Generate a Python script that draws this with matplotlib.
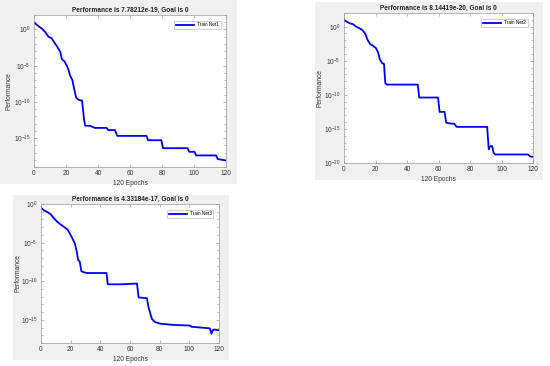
import numpy as np
import matplotlib
matplotlib.use("Agg")
import matplotlib.pyplot as plt
from matplotlib.patches import Rectangle

plt.rcParams["font.family"] = ["Liberation Sans", "DejaVu Sans"]
plt.rcParams["mathtext.fontset"] = "custom"
plt.rcParams["mathtext.rm"] = "Liberation Sans"
plt.rcParams["mathtext.it"] = "Liberation Sans"

# epochs / log10(performance)
epochs1 = [0, 2.9, 5, 7, 9, 11, 13, 15, 16.4, 17.4, 19, 20.5, 21.6, 22.6, 24, 25,
           26.3, 27.8, 28.8, 30, 31.3, 32, 35, 38, 45.4, 46.4, 50.6, 52, 70.3,
           71.3, 79.6, 80.6, 96, 97, 100.3, 101.3, 113.8, 114.8, 120]
log_perf1 = [0.97, 0.44, 0.1, -0.35, -1.0, -1.2, -1.9, -2.55, -3.1, -4.1, -4.4,
             -5.0, -5.6, -6.4, -7.0, -8.1, -9.4, -9.7, -9.8, -9.8, -12.5, -13.3,
             -13.3, -13.6, -13.6, -13.9, -13.9, -14.7, -14.7, -15.3, -15.3,
             -16.4, -16.4, -16.9, -16.9, -17.4, -17.4, -17.9, -18.1]

epochs2 = [0, 1.5, 3.5, 5.6, 7.7, 9.8, 11.9, 13.5, 15, 16.6, 18.1, 20.2, 21.6,
           22.7, 24.3, 25.4, 26.2, 27, 46.8, 47.8, 59.7, 60.7, 63.8, 64.9, 67.6,
           70, 71.5, 90.9, 91.9, 92.5, 94, 95, 96, 116.8, 118.3, 120]
log_perf2 = [0.98, 0.75, 0.5, 0.37, 0.0, -0.23, -0.56, -1.03, -1.96, -2.57,
             -2.76, -3.13, -3.74, -4.77, -5.37, -5.47, -8.27, -8.5, -8.5, -10.4,
             -10.4, -12.5, -12.5, -14.1, -14.2, -14.25, -14.7, -14.7, -18.0,
             -17.6, -17.5, -18.55, -18.75, -18.75, -19.05, -19.09]

epochs3 = [0, 2.2, 4.5, 6.7, 8.9, 11.2, 13.4, 15.6, 17.9, 19.4, 21.2, 22.8,
           24.1, 25, 26.1, 27.2, 29, 31.2, 44.2, 45, 53.6, 64.7, 65.8, 71.4,
           72.5, 74.8, 77, 80.4, 89.3, 100.4, 101.5, 113.8, 114.9, 116, 117.2,
           120]
log_perf3 = [-0.5, -0.85, -1.06, -1.36, -1.9, -2.34, -2.68, -2.98, -3.3, -3.83,
             -4.47, -5.1, -6.17, -7.23, -7.45, -8.7, -8.85, -8.94, -8.94, -10.4,
             -10.4, -10.3, -12.1, -12.2, -13.4, -14.9, -15.3, -15.5, -15.66,
             -15.74, -15.9, -16.1, -16.8, -16.3, -16.26, -16.36]

titles = ["Performance is 7.78212e-19, Goal is 0",
          "Performance is 8.14419e-20, Goal is 0",
          "Performance is 4.33184e-17, Goal is 0"]
labels = ["Train Net1", "Train Net2", "Train Net3"]

W, H = 550, 366
fig = plt.figure(figsize=(W / 100, H / 100), dpi=100)
fig.patch.set_facecolor("white")

# pixel boxes: (frame x0, y0, x1, y1), (axes left, top, right, bottom), ylim exps
panels = [
    ((0, 0, 237, 184), (34, 15, 226, 167), (-18.9, 1.2), [0, -5, -10, -15]),
    ((315, 2, 543, 180), (344, 13, 533, 163), (-20, 1.1), [0, -5, -10, -15, -20]),
    ((13, 195, 229, 360), (41, 204, 219, 343), (-17.9, 0), [0, -5, -10, -15]),
]
data = [(epochs1, log_perf1), (epochs2, log_perf2), (epochs3, log_perf3)]

for (frame, box, ylim, majors), (ep, lp), title, lab in zip(panels, data, titles, labels):
    fx0, fy0, fx1, fy1 = frame
    fig.patches.append(Rectangle((fx0 / W, 1 - fy1 / H), (fx1 - fx0) / W,
                                 (fy1 - fy0) / H, transform=fig.transFigure,
                                 facecolor="#f0f0f0", edgecolor="none", zorder=-10))
    l, t, r, b = box
    ax = fig.add_axes([l / W, 1 - b / H, (r - l) / W, (b - t) / H])
    ax.set_facecolor("white")
    ax.plot(ep, 10 ** np.array(lp), color="#0000ff", lw=1.3, label=lab)
    ax.set_yscale("log")
    ax.set_xlim(0, 120)
    ax.set_ylim(10 ** ylim[0], 10 ** ylim[1])
    ax.set_xticks(range(0, 121, 20))
    ax.set_yticks([10.0 ** e for e in majors])
    ax.set_yticklabels([f"$10^{{{e}}}$" for e in majors])
    minors = [10.0 ** e for e in range(int(np.floor(ylim[0])), int(np.ceil(ylim[1])) + 1)
              if e not in majors]
    ax.set_yticks(minors, minor=True)
    ax.yaxis.set_minor_formatter(plt.NullFormatter())
    ax.tick_params(which="both", direction="in", top=True, right=True,
                   labelsize=4.7, colors="#888888", labelcolor="#333333",
                   width=0.4, pad=2.5)
    ax.tick_params(which="major", length=2)
    ax.tick_params(which="minor", length=1.2)
    for s in ax.spines.values():
        s.set_color("#999999")
        s.set_linewidth(0.5)
    ax.set_title(title, fontsize=4.7, fontweight="bold", pad=2, color="#222222")
    ax.set_xlabel("120 Epochs", fontsize=4.8, labelpad=2, color="#333333")
    ax.set_ylabel("Performance", fontsize=4.8, color="#333333")
    ax.yaxis.set_label_coords(-0.11, 0.5)
    leg = ax.legend(loc="upper right", fontsize=3.3, frameon=True, fancybox=False,
                    handlelength=4, borderpad=0.4, borderaxespad=1.2,
                    handletextpad=0.6)
    leg.get_frame().set_edgecolor("#999999")
    leg.get_frame().set_linewidth(0.4)

fig.savefig("out.png", dpi=100, facecolor="white")
